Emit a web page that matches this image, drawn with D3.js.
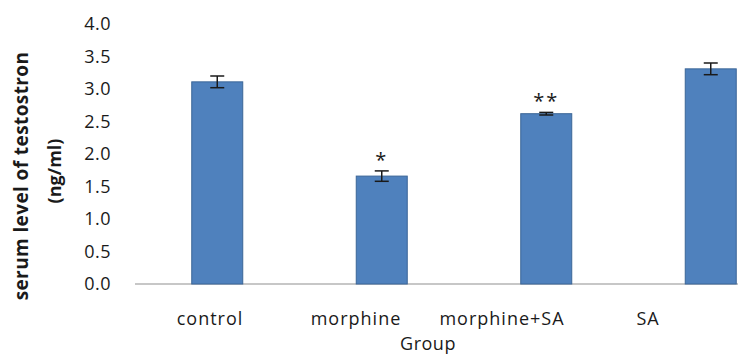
<!doctype html>
<html>
<head>
<meta charset="utf-8">
<style>
  body { margin: 0; background: #fff; }
  text { font-family: "Open Sans", "Liberation Sans", sans-serif; fill: #1a1a1a; }
  .bar { fill: #4f81bd; stroke: #3b6597; stroke-width: 1; }
</style>
<script src="https://d3js.org/d3.v7.min.js"></script>
</head>
<body>
<svg width="738" height="356"></svg>
<script>
var groups = ["control", "morphine", "morphine+SA", "SA"];
var means = [3.11, 1.66, 2.62, 3.31];
var errs = [0.09, 0.08, 0.02, 0.09];
var marks = ["", "*", "**", ""];
var yTicks = [0, 0.5, 1, 1.5, 2, 2.5, 3, 3.5, 4];

var data = groups.map(function(g, i) {
    return { group: g, mean: means[i], err: errs[i], mark: marks[i] };
});

var svg = d3.select("svg");

// bars sit on a wider band than the category labels (as in the original picture)
var xScale = d3.scaleBand().domain(groups).range([135, 793]).paddingInner(0.69).paddingOuter(0.345);
var xLabel = d3.scaleBand().domain(groups).range([137, 721]);
var yScale = d3.scaleLinear().domain([0, 4]).range([284, 24]);

// baseline
svg.append("line")
   .attr("x1", 135).attr("x2", 738)
   .attr("y1", yScale(0)).attr("y2", yScale(0))
   .attr("stroke", "#b4b4b4").attr("stroke-width", 1.5);

// y axis labels
var yAxis = svg.append("g")
   .attr("transform", "translate(111,0)")
   .call(d3.axisLeft(yScale).tickValues(yTicks).tickFormat(d3.format(".1f")).tickSize(0).tickPadding(0));
yAxis.select(".domain").remove();
yAxis.selectAll("text")
   .attr("font-size", "18px")
   .attr("font-family", "Open Sans")
   .attr("letter-spacing", "0.5px")
   .attr("fill", "#1a1a1a");

// x labels
var xAxis = svg.append("g")
   .attr("transform", "translate(0,312)")
   .call(d3.axisBottom(xLabel).tickSize(0).tickPadding(0));
xAxis.select(".domain").remove();
xAxis.selectAll("text")
   .attr("font-size", "18px")
   .attr("font-family", "Open Sans")
   .attr("letter-spacing", "1px")
   .attr("fill", "#1a1a1a");

svg.append("text")
   .attr("x", 428).attr("y", 350)
   .attr("text-anchor", "middle")
   .attr("font-size", "18px")
   .attr("letter-spacing", "0.5px")
   .text("Group");

// y title, two lines
svg.append("text")
   .attr("transform", "translate(28,176) rotate(-90)")
   .attr("text-anchor", "middle")
   .attr("font-size", "19px")
   .attr("font-weight", "bold")
   .attr("letter-spacing", "0.4px")
   .attr("font-family", "Liberation Sans")
   .text("serum level of testostron");
svg.append("text")
   .attr("transform", "translate(61,171) rotate(-90)")
   .attr("text-anchor", "middle")
   .attr("font-size", "18px")
   .attr("font-weight", "bold")
   .attr("font-family", "Liberation Sans")
   .text("(ng/ml)");

// bars
svg.selectAll(".bar")
   .data(data)
   .enter().append("rect")
   .attr("class", "bar")
   .attr("x", function(d) { return xScale(d.group); })
   .attr("y", function(d) { return yScale(d.mean); })
   .attr("width", xScale.bandwidth())
   .attr("height", function(d) { return yScale(0) - yScale(d.mean); });

// error bars
var eb = svg.selectAll(".err")
   .data(data)
   .enter().append("g")
   .attr("class", "err")
   .attr("stroke", "#1a1a1a")
   .attr("stroke-width", 1.5);
eb.append("line")
   .attr("x1", function(d) { return xScale(d.group) + xScale.bandwidth() / 2; })
   .attr("x2", function(d) { return xScale(d.group) + xScale.bandwidth() / 2; })
   .attr("y1", function(d) { return yScale(d.mean + d.err); })
   .attr("y2", function(d) { return yScale(d.mean - d.err); });
eb.selectAll(".cap")
   .data(function(d) { return [d.mean + d.err, d.mean - d.err].map(function(v) { return { group: d.group, v: v }; }); })
   .enter().append("line")
   .attr("x1", function(d) { return xScale(d.group) + xScale.bandwidth() / 2 - 7; })
   .attr("x2", function(d) { return xScale(d.group) + xScale.bandwidth() / 2 + 7; })
   .attr("y1", function(d) { return yScale(d.v); })
   .attr("y2", function(d) { return yScale(d.v); });

// significance marks
svg.selectAll(".sig")
   .data(data.filter(function(d) { return d.mark; }))
   .enter().append("text")
   .attr("class", "sig")
   .attr("x", function(d) { return xScale(d.group) + xScale.bandwidth() / 2; })
   .attr("y", function(d) { return yScale(d.mean + d.err) + 2 - 6; })
   .attr("text-anchor", "middle")
   .attr("font-size", "20px")
   .attr("font-family", "Liberation Sans")
   .attr("letter-spacing", "2px")
   .text(function(d) { return d.mark; });
</script>
</body>
</html>
